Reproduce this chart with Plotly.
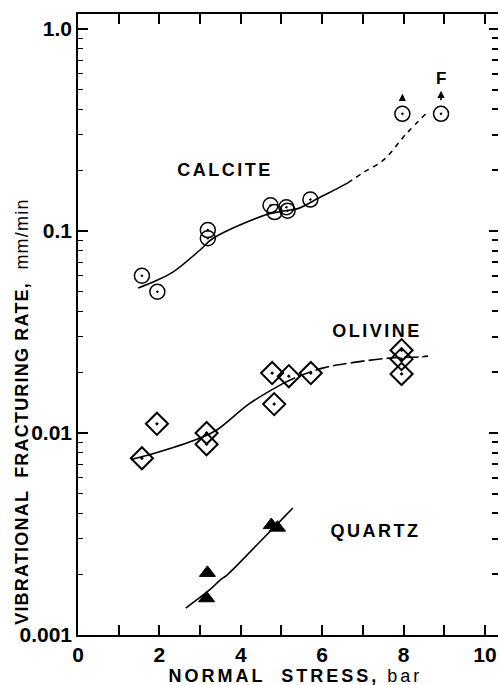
import math
import plotly.graph_objects as go

# ---- data ----
calcite_x = [1.57, 1.95, 3.19, 3.19, 4.73, 4.83, 5.12, 5.15, 5.71, 7.97, 8.92]
calcite_y = [0.060, 0.050, 0.101, 0.092, 0.134, 0.124, 0.131, 0.126, 0.143, 0.38, 0.38]

olivine_x = [1.57, 1.94, 3.16, 3.16, 4.77, 4.82, 5.18, 5.72, 7.95, 7.95, 7.95]
olivine_y = [0.0075, 0.0111, 0.0100, 0.0088, 0.0198, 0.0139, 0.0191, 0.0198, 0.0257, 0.0232, 0.0196]

quartz_x = [3.18, 3.16, 4.75, 4.90]
quartz_y = [0.00203, 0.00152, 0.0035, 0.0034]

calcite_fit_x = [1.48, 1.9, 2.34, 3.0, 3.32, 4.6, 5.0, 5.4, 5.95, 6.39, 6.63]
calcite_fit_y = [0.0522, 0.0565, 0.0627, 0.0805, 0.092, 0.120, 0.125, 0.129, 0.147, 0.163, 0.173]
calcite_ext_x = [6.63, 7.0, 7.5, 8.08, 8.57]
calcite_ext_y = [0.173, 0.194, 0.224, 0.305, 0.384]

olivine_fit_x = [1.3, 1.82, 3.0, 3.41, 4.22, 5.02]
olivine_fit_y = [0.0074, 0.00787, 0.00944, 0.01035, 0.0140, 0.0175]
olivine_ext_x = [5.02, 5.4, 6.03, 6.68, 7.67, 8.4, 8.6]
olivine_ext_y = [0.0175, 0.0190, 0.0210, 0.0222, 0.0235, 0.0238, 0.0240]

quartz_fit_x = [2.65, 3.29, 3.49, 3.66, 4.23, 4.87, 5.28]
quartz_fit_y = [0.00136, 0.00171, 0.00187, 0.00198, 0.00258, 0.0035, 0.00425]

# label anchor positions (data units)
label_names = ["CALCITE", "OLIVINE", "QUARTZ"]
label_x = [3.62, 7.35, 7.32]
label_y = [0.20, 0.032, 0.00326]

x_ticks = [0, 1, 2, 3, 4, 5, 6, 7, 8, 9, 10]
x_ticktext = ["0", "", "2", "", "4", "", "6", "", "8", "", "10"]
y_ticks = [0.001, 0.01, 0.1, 1.0]
y_ticktext = ["0.001", "0.01", "0.1", "1.0"]
y_minor = [m * d for d in [0.001, 0.01, 0.1, 1.0] for m in range(2, 10)]

FONT = "Liberation Sans"

fig = go.Figure()

line_style = dict(color="black", width=1.6)
fig.add_trace(go.Scatter(x=calcite_fit_x, y=calcite_fit_y, mode="lines", line=line_style, line_shape="spline"))
fig.add_trace(go.Scatter(x=calcite_ext_x, y=calcite_ext_y, mode="lines",
                         line=dict(color="black", width=1.6, dash="5px,5px"), line_shape="spline"))
fig.add_trace(go.Scatter(x=olivine_fit_x, y=olivine_fit_y, mode="lines", line=line_style, line_shape="spline"))
fig.add_trace(go.Scatter(x=olivine_ext_x, y=olivine_ext_y, mode="lines",
                         line=dict(color="black", width=1.6, dash="14px,4px"), line_shape="spline"))
fig.add_trace(go.Scatter(x=quartz_fit_x, y=quartz_fit_y, mode="lines", line=line_style, line_shape="spline"))

fig.add_trace(go.Scatter(x=calcite_x, y=calcite_y, mode="markers",
                         marker=dict(symbol="circle-open-dot", size=15, color="black",
                                     line=dict(width=1.5, color="black"))))
fig.add_trace(go.Scatter(x=olivine_x, y=olivine_y, mode="markers",
                         marker=dict(symbol="diamond-open-dot", size=17, color="black",
                                     line=dict(width=2, color="black"))))
fig.add_trace(go.Scatter(x=quartz_x, y=quartz_y, mode="markers",
                         marker=dict(symbol="triangle-up", size=14, color="black",
                                     line=dict(width=1, color="black"))))

# dummy trace for right-side ticks
fig.add_trace(go.Scatter(x=[None], y=[None], yaxis="y2", showlegend=False))

label_font = dict(family=FONT, size=18, color="black", weight="bold")
for name, lx, ly in zip(label_names, label_x, label_y):
    fig.add_annotation(x=lx, y=math.log10(ly), xref="x", yref="y", text=name, showarrow=False,
                       font=label_font)

# "F" and arrows above the two highest calcite points
top_x, top_y = calcite_x[-1], math.log10(calcite_y[-1])
fig.add_annotation(x=top_x, y=top_y, xref="x", yref="y", text="F", showarrow=False,
                   yshift=35, font=dict(family=FONT, size=17, color="black", weight="bold"))
fig.add_annotation(x=top_x, y=top_y, xref="x", yref="y", text="", showarrow=True,
                   yshift=23, ax=0, ay=11, standoff=0, arrowhead=2, arrowsize=0.9, arrowwidth=1.6,
                   arrowcolor="black")
fig.add_annotation(x=calcite_x[-2], y=math.log10(calcite_y[-2]), xref="x", yref="y", text="",
                   showarrow=True, yshift=20, ax=0, ay=6, standoff=0, arrowhead=2, arrowsize=0.9,
                   arrowwidth=1.6, arrowcolor="black")

# y-axis title
fig.add_annotation(xref="paper", yref="paper", x=-0.133, y=0.36, xanchor="center", yanchor="middle",
                   textangle=-90, showarrow=False,
                   text="<b>VIBRATIONAL  FRACTURING RATE,</b>  mm/min",
                   font=dict(family=FONT, size=18, color="black"))
# x-axis title
fig.add_annotation(xref="paper", yref="paper", x=0.517, y=-0.066, xanchor="center", yanchor="middle",
                   showarrow=False,
                   text="<b>NORMAL  STRESS,</b> bar",
                   font=dict(family=FONT, size=18, color="black"))

fig.update_layout(
    width=500, height=685,
    margin=dict(l=78, r=2, t=14, b=50, autoexpand=False),
    paper_bgcolor="white", plot_bgcolor="white",
    showlegend=False,
    xaxis=dict(range=[0, 10.32], tickvals=x_ticks, ticktext=x_ticktext,
               ticks="inside", ticklen=10, tickwidth=1.5, tickcolor="black",
               showline=True, linecolor="black", linewidth=1.5, mirror="ticks",
               showgrid=False, zeroline=False, automargin=False,
               tickfont=dict(family=FONT, size=21, color="black", weight="bold")),
    yaxis=dict(type="log", range=[-3, 0.074], tickvals=y_ticks, ticktext=y_ticktext,
               ticks="inside", ticklen=10, tickwidth=1.5, tickcolor="black",
               showline=True, linecolor="black", linewidth=1.5,
               showgrid=False, zeroline=False, automargin=False,
               minor=dict(tickvals=y_minor, ticks="inside", ticklen=5, tickwidth=1.2,
                          tickcolor="black", showgrid=False),
               tickfont=dict(family=FONT, size=21, color="black", weight="bold")),
    yaxis2=dict(type="log", range=[-3, 0.074], overlaying="y", side="right",
                tickvals=y_ticks, showticklabels=False, automargin=False,
                ticks="inside", ticklen=9, tickwidth=1.5, tickcolor="black",
                showline=False, showgrid=False, zeroline=False,
                minor=dict(tickvals=y_minor, ticks="inside", ticklen=6, tickwidth=1.5,
                           tickcolor="black", showgrid=False)),
)

post = """
document.body.style.margin = '0px';
document.body.style.overflow = 'hidden';
var gd = document.getElementById('{plot_id}');
function fixSpacing() {
  document.querySelectorAll('text.annotation-text').forEach(function (t) {
    var s = t.textContent;
    if (s.indexOf('NORMAL') >= 0) { t.style.letterSpacing = '3px'; }
    else if (s.indexOf('VIBRATIONAL') >= 0) { t.style.letterSpacing = '1.2px'; }
    else if (s === 'CALCITE' || s === 'OLIVINE' || s === 'QUARTZ') { t.style.letterSpacing = '2.5px'; }
  });
}
fixSpacing();
if (gd && gd.on) { gd.on('plotly_afterplot', fixSpacing); }
setTimeout(fixSpacing, 50);
"""

fig.write_html("out.html", post_script=post, config={"displayModeBar": False})
